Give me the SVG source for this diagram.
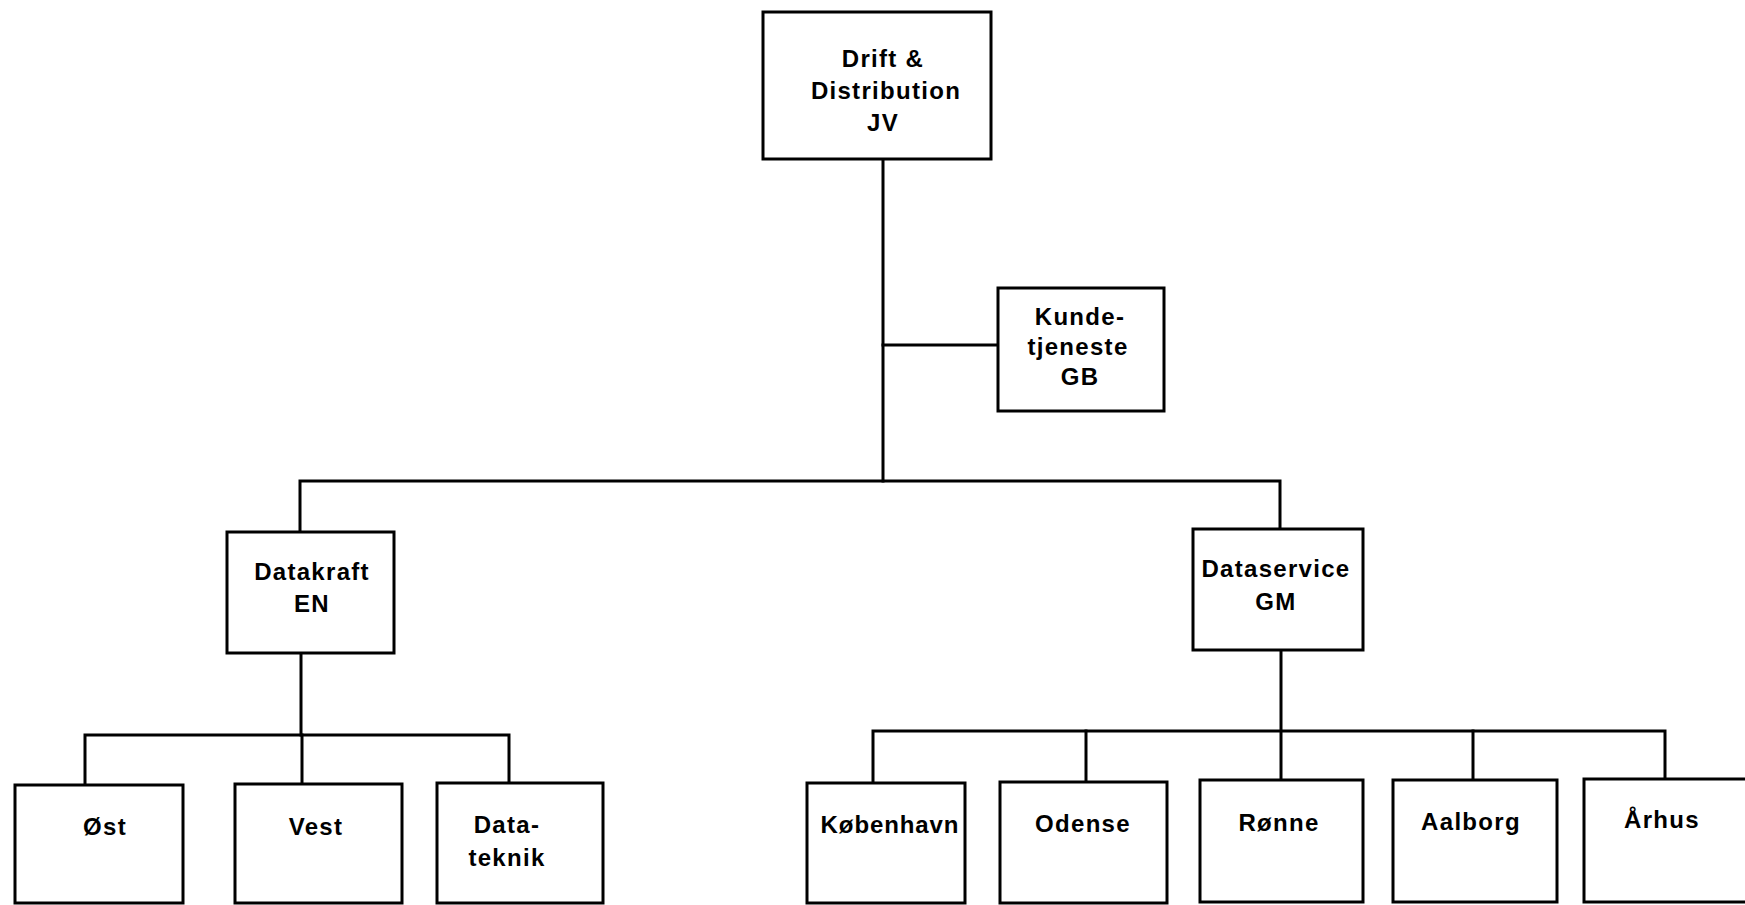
<svg xmlns="http://www.w3.org/2000/svg" width="1745" height="905" viewBox="0 0 1745 905">
<style>
  .box { fill: #ffffff; stroke: #000000; stroke-width: 3; stroke-linejoin: miter; }
  .line { fill: none; stroke: #000000; stroke-width: 3; stroke-linecap: square; }
  text { font-family: "Liberation Sans", "DejaVu Sans", sans-serif; font-weight: bold; font-size: 24px; letter-spacing: 1.3px; text-anchor: middle; fill: #000000; }
  .tight { letter-spacing: 0.9px; }
</style>
<rect x="0" y="0" width="1745" height="905" fill="#ffffff"/>
<g id="connectors">
  <path class="line" d="M883,159 V481"/>
  <path class="line" d="M883,345 H998"/>
  <path class="line" d="M300,532 V481 H1280 V529"/>
  <path class="line" d="M301,653 V735"/>
  <path class="line" d="M85,785 V735 H509 V783"/>
  <path class="line" d="M302,735 V784"/>
  <path class="line" d="M1281,650 V780"/>
  <path class="line" d="M873,783 V731 H1665 V779"/>
  <path class="line" d="M1086,731 V782"/>
  <path class="line" d="M1473,731 V780"/>
</g>
<g id="node-drift">
  <rect class="box" x="763" y="12" width="228" height="147"/>
  <text x="883" y="67">Drift &amp;</text>
  <text x="886" y="99">Distribution</text>
  <text x="883" y="131">JV</text>
</g>
<g id="node-kunde">
  <rect class="box" x="998" y="288" width="166" height="123"/>
  <text x="1080" y="325">Kunde-</text>
  <text x="1078" y="355">tjeneste</text>
  <text x="1080" y="385">GB</text>
</g>
<g id="node-datakraft">
  <rect class="box" x="227" y="532" width="167" height="121"/>
  <text x="312" y="580">Datakraft</text>
  <text x="312" y="612">EN</text>
</g>
<g id="node-dataservice">
  <rect class="box" x="1193" y="529" width="170" height="121"/>
  <text x="1276" y="577">Dataservice</text>
  <text x="1276" y="610">GM</text>
</g>
<g id="node-ost">
  <rect class="box" x="15" y="785" width="168" height="118"/>
  <text x="105" y="835">Øst</text>
</g>
<g id="node-vest">
  <rect class="box" x="235" y="784" width="167" height="119"/>
  <text x="316" y="835">Vest</text>
</g>
<g id="node-datateknik">
  <rect class="box" x="437" y="783" width="166" height="120"/>
  <text x="507" y="833">Data-</text>
  <text x="507" y="866">teknik</text>
</g>
<g id="node-kobenhavn">
  <rect class="box" x="807" y="783" width="158" height="120"/>
  <text class="tight" x="890" y="833">København</text>
</g>
<g id="node-odense">
  <rect class="box" x="1000" y="782" width="167" height="121"/>
  <text x="1083" y="832">Odense</text>
</g>
<g id="node-ronne">
  <rect class="box" x="1200" y="780" width="163" height="122"/>
  <text x="1279" y="831">Rønne</text>
</g>
<g id="node-aalborg">
  <rect class="box" x="1393" y="780" width="164" height="122"/>
  <text x="1471" y="830">Aalborg</text>
</g>
<g id="node-arhus">
  <rect class="box" x="1584" y="779" width="170" height="123"/>
  <text x="1662" y="828">Århus</text>
</g>
</svg>
